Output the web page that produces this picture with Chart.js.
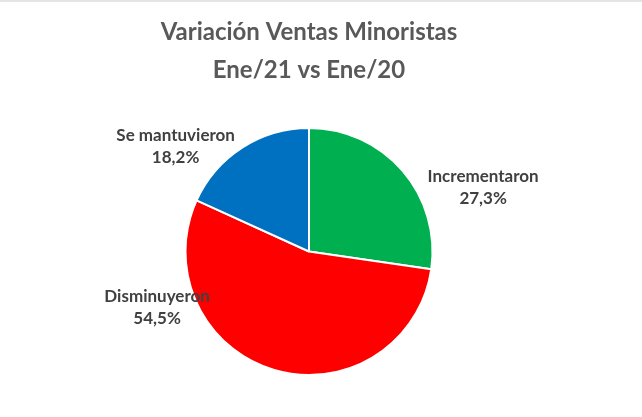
<!DOCTYPE html>
<html>
<head>
<meta charset="utf-8">
<script src="https://cdn.jsdelivr.net/npm/chart.js@4.4.1/dist/chart.umd.min.js"></script>
<style>
  html, body { margin: 0; padding: 0; background: #fff; }
  #wrap { width: 642px; height: 417px; position: relative; border-top: 2px solid #e4e4e4; box-sizing: border-box; }
</style>
</head>
<body>
<div id="wrap"><canvas id="canvas" width="642" height="415"></canvas></div>
<script>
// Datos del grafico
const categorias = ["Incrementaron", "Disminuyeron", "Se mantuvieron"];
const porcentajes = [27.3, 54.5, 18.2];
const colores = ["#00B050", "#FF0000", "#0070C0"];
const titulo = ["Variación Ventas Minoristas", "Ene/21 vs Ene/20"];

// donde va cada etiqueta, en radios desde el centro
const posEtiquetas = [[1.41, -0.52], [-1.23, 0.45], [-1.08, -0.85]];

// plugin para las etiquetas de categoria + valor
const etiquetas = {
    id: "etiquetas",
    afterDatasetsDraw(chart) {
        const ctx = chart.ctx;
        const meta = chart.getDatasetMeta(0);
        ctx.save();
        ctx.fillStyle = "#404040";
        ctx.font = "bold 17px Lato";
        ctx.textAlign = "center";
        ctx.textBaseline = "middle";
        meta.data.forEach((arc, i) => {
            const r = arc.outerRadius;
            const x = arc.x + posEtiquetas[i][0] * r;
            const y = arc.y + posEtiquetas[i][1] * r;
            const valor = porcentajes[i].toFixed(1).replace(".", ",") + "%";
            ctx.fillText(categorias[i], x, y - 11);
            ctx.fillText(valor, x, y + 11);
        });
        ctx.restore();
    }
};

const chart = new Chart(document.getElementById("canvas").getContext("2d"), {
    type: "pie",
    data: {
        labels: categorias,
        datasets: [{
            data: porcentajes,
            backgroundColor: colores,
            borderColor: "#ffffff",
            borderWidth: 2,
            hoverOffset: 0
        }]
    },
    options: {
        responsive: false,
        animation: false,
        layout: { padding: { left: 0, right: 24, top: 0, bottom: 41 } },
        plugins: {
            legend: { display: false },
            tooltip: { enabled: false },
            title: {
                display: true,
                text: titulo,
                color: "#595959",
                font: { family: "Lato", size: 24, weight: "bold", lineHeight: 1.55 },
                padding: { top: 12, bottom: 38.6 }
            }
        }
    },
    plugins: [etiquetas]
});
</script>
</body>
</html>
